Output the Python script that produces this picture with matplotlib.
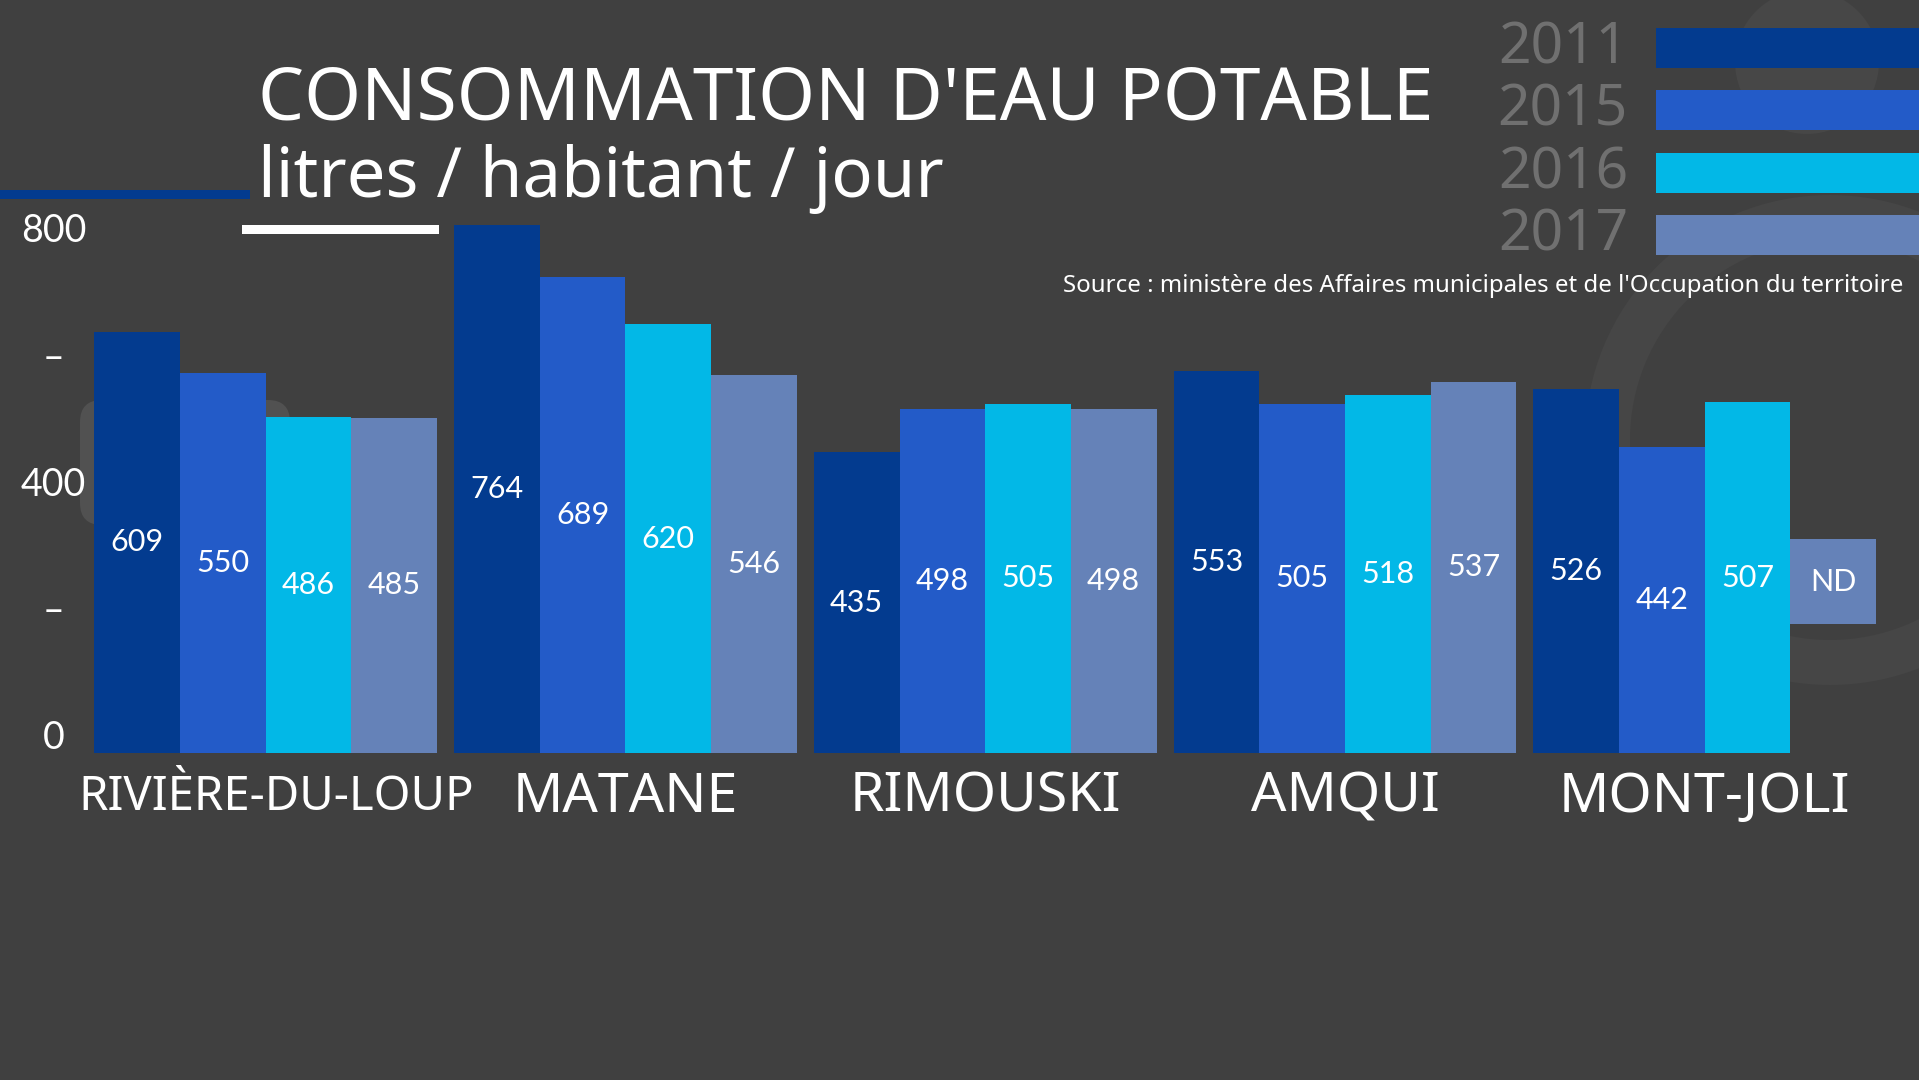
import numpy as np
import matplotlib
matplotlib.use("Agg")
import matplotlib.pyplot as plt
import matplotlib.patches as patches

# données
villes = ["RIVIÈRE-DU-LOUP", "MATANE", "RIMOUSKI", "AMQUI", "MONT-JOLI"]
annees = ["2011", "2015", "2016", "2017"]
v2011 = [609, 764, 435, 553, 526]
v2015 = [550, 689, 498, 505, 442]
v2016 = [486, 620, 505, 518, 507]
v2017 = [485, 546, 498, 537, np.nan]   # Mont-Joli 2017 : ND
series = [v2011, v2015, v2016, v2017]
yticks = [0, 200, 400, 600, 800]
ytick_labels = ["0", "–", "400", "–", "800"]

couleurs = ["#033B8F", "#235BC8", "#02B8E7", "#6582B8"]
fond = "#404040"
W, H = 1919, 1080

fig = plt.figure(figsize=(W / 100, H / 100), dpi=100, facecolor=fond)

# fond + décor, en pixels
bg = fig.add_axes([0, 0, 1, 1])
bg.set_xlim(0, W)
bg.set_ylim(H, 0)
bg.axis("off")
bg.set_facecolor(fond)

# filigrane discret
bg.add_patch(patches.Circle((1807, 62), 72, color="#474747", lw=0))
bg.add_patch(patches.Wedge((1830, 440), 245, 0, 360, width=45, color="#464646", lw=0))
bg.add_patch(patches.FancyBboxPatch((80, 400), 210, 125, boxstyle="round,pad=0,rounding_size=22",
                                    color="#515151", lw=0))

# traits
bg.add_patch(patches.Rectangle((0, 190), 250, 9, color=couleurs[0], lw=0))
bg.add_patch(patches.Rectangle((242, 225), 197, 9, color="white", lw=0))

# titres
bg.text(258, 120, "CONSOMMATION D'EAU POTABLE", color="white", fontsize=52.5,
        family="Noto Sans", va="baseline", ha="left")
bg.text(258, 197, "litres / habitant / jour", color="white", fontsize=49.5,
        family="Noto Sans", va="baseline", ha="left")

# légende
for k, (an, c) in enumerate(zip(annees, couleurs)):
    top = 28 + k * 62.3
    bg.add_patch(patches.Rectangle((1656, top), W - 1656, 40, color=c, lw=0))
    bg.text(1628, top + 21, an, color="#707070", fontsize=41, family="Noto Sans",
            ha="right", va="center")

bg.text(1903, 286, "Source : ministère des Affaires municipales et de l'Occupation du territoire",
        color="white", fontsize=17.3, family="Noto Sans", ha="right", va="center")

# axe des y (étiquettes seules)
ay = fig.add_axes([0.0274, 1 - 738 / H, 0.001, 507 / H])
ay.set_ylim(0, 800)
ay.set_xlim(0, 1)
ay.axis("off")
for t, lab in zip(yticks, ytick_labels):
    ay.text(0.5, t, lab, color="white", fontsize=27, family="Lato", ha="center", va="center")

# barres
bw = 70 / 294
ax = fig.add_axes([77 / 1568, 1 - 753 / H, 1456 / 1568, 800 * 0.565 * 1.2239 / H])
ax.patch.set_alpha(0)
ax.set_xlim(-2 * bw, 4 + 2 * bw)
ax.set_ylim(0, 800)
ax.axis("off")

x = np.arange(len(villes))
for j, (vals, c) in enumerate(zip(series, couleurs)):
    pos = x + (j - 1.5) * bw
    vals = np.array(vals, dtype=float)
    ok = ~np.isnan(vals)
    ax.bar(pos[ok], vals[ok], width=bw, color=c, align="center", lw=0)
    for p, v in zip(pos[ok], vals[ok]):
        ax.text(p, v / 2, f"{int(v)}", color="white", fontsize=22, family="Lato",
                ha="center", va="center")
    # case « ND »
    for p in pos[~ok]:
        ax.bar(p, 124, bottom=186, width=bw, color=c, lw=0)
        ax.text(p, 248, "ND", color="white", fontsize=22, family="Lato",
                ha="center", va="center")

for i, v in enumerate(villes):
    taille = 34 if i == 0 else 40
    dx = 0.03 if i == 0 else 0
    ax.text(i + dx, -64, v, color="white", fontsize=taille, family="Noto Sans",
            ha="center", va="center", clip_on=False)

fig.savefig("out.png", dpi=100, facecolor=fond)
